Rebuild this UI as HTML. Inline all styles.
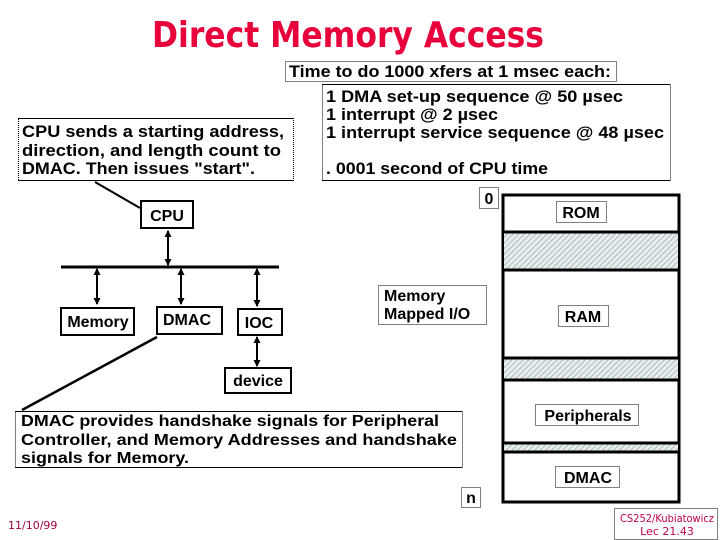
<!DOCTYPE html>
<html><head><meta charset="utf-8"><style>
html,body{margin:0;padding:0;background:#fff;width:720px;height:540px;overflow:hidden}
svg{display:block}
.c{font-family:"Liberation Sans",sans-serif;font-weight:bold;font-size:17px}
.b{font-family:"Liberation Sans",sans-serif;font-weight:bold;font-size:16px}
.d{fill:none;stroke:#000;stroke-width:1;stroke-dasharray:1,1}
</style></head><body>
<svg width="720" height="540" viewBox="0 0 720 540" xmlns="http://www.w3.org/2000/svg">
<defs>
<pattern id="h" width="4" height="4" patternUnits="userSpaceOnUse" patternTransform="rotate(45)">
<rect width="4" height="4" fill="#e8eef0"/><line x1="0" y1="0" x2="0" y2="4" stroke="#8a9aa0" stroke-width="1.2"/>
</pattern>
<marker id="a" markerWidth="8" markerHeight="8" refX="6" refY="4" orient="auto-start-reverse" markerUnits="userSpaceOnUse"><path d="M0,0.5 L7,4 L0,7.5z" fill="#000"/></marker>
</defs>
<text x="348" y="47" text-anchor="middle" font-family="'DejaVu Sans',sans-serif" font-weight="bold" font-size="36" fill="#e8003c" textLength="392" lengthAdjust="spacingAndGlyphs">Direct Memory Access</text>

<rect class="d" x="285.5" y="61.5" width="331" height="20"/>
<text class="c" x="289" y="77" textLength="322" lengthAdjust="spacingAndGlyphs">Time to do 1000 xfers at 1 msec each:</text>
<path d="M322.5 84.5 H670.5 V180.5 H322.5 Z" fill="none" stroke="#000" stroke-dasharray="1,1"/>
<line x1="322" y1="84.5" x2="670" y2="84.5" stroke="#000"/>
<line x1="322" y1="180.5" x2="670" y2="180.5" stroke="#000"/>
<text class="c" x="326" y="102" textLength="297" lengthAdjust="spacingAndGlyphs">1 DMA set-up sequence @ 50 µsec</text>
<text class="c" x="326" y="120" textLength="172" lengthAdjust="spacingAndGlyphs">1 interrupt @ 2 µsec</text>
<text class="c" x="326" y="138" textLength="338" lengthAdjust="spacingAndGlyphs">1 interrupt service sequence @ 48 µsec</text>
<text class="c" x="326" y="174" textLength="222" lengthAdjust="spacingAndGlyphs">. 0001 second of CPU time</text>

<path d="M18.5 170 V118.5 H293.5 V180.5 H18.5 Z" fill="none" stroke="#000" stroke-dasharray="1,1"/>
<line x1="18" y1="118.5" x2="293" y2="118.5" stroke="#000"/>
<line x1="18" y1="180.5" x2="293" y2="180.5" stroke="#000"/>
<text class="c" x="22" y="137" textLength="262" lengthAdjust="spacingAndGlyphs">CPU sends a starting address,</text>
<text class="c" x="22" y="156" textLength="259" lengthAdjust="spacingAndGlyphs">direction,  and length count to</text>
<text class="c" x="22" y="174" textLength="233" lengthAdjust="spacingAndGlyphs">DMAC. Then issues "start".</text>

<line x1="95" y1="182" x2="140" y2="208" stroke="#000" stroke-width="2"/>
<rect x="141" y="201" width="52" height="27" fill="none" stroke="#000" stroke-width="2"/>
<text class="b" x="167" y="221" text-anchor="middle">CPU</text>
<line x1="168" y1="231" x2="168" y2="265" stroke="#000" stroke-width="2" marker-start="url(#a)" marker-end="url(#a)"/>
<line x1="61" y1="267" x2="279" y2="267" stroke="#000" stroke-width="3"/>
<line x1="97" y1="269" x2="97" y2="304" stroke="#000" stroke-width="2" marker-start="url(#a)" marker-end="url(#a)"/>
<line x1="181" y1="269" x2="181" y2="304" stroke="#000" stroke-width="2" marker-start="url(#a)" marker-end="url(#a)"/>
<line x1="257" y1="269" x2="257" y2="306" stroke="#000" stroke-width="2" marker-start="url(#a)" marker-end="url(#a)"/>
<rect x="61" y="308" width="73" height="27" fill="none" stroke="#000" stroke-width="2"/>
<text class="b" x="98" y="327" text-anchor="middle">Memory</text>
<rect x="157" y="307" width="65" height="27" fill="none" stroke="#000" stroke-width="2"/>
<text class="b" x="187" y="325" text-anchor="middle">DMAC</text>
<rect x="238" y="309" width="44" height="26" fill="none" stroke="#000" stroke-width="2"/>
<text class="b" x="259" y="328" text-anchor="middle">IOC</text>
<line x1="257" y1="337" x2="257" y2="366" stroke="#000" stroke-width="2" marker-start="url(#a)" marker-end="url(#a)"/>
<rect x="225" y="368" width="66" height="25" fill="none" stroke="#000" stroke-width="2"/>
<text class="b" x="258" y="386" text-anchor="middle">device</text>
<line x1="157" y1="337" x2="22" y2="410" stroke="#000" stroke-width="2.5"/>

<path d="M15.5 411.5 H462.5 V467.5 H15.5 Z" fill="none" stroke="#000" stroke-dasharray="1,1"/>
<line x1="15" y1="411.5" x2="462" y2="411.5" stroke="#000"/>
<line x1="15" y1="467.5" x2="462" y2="467.5" stroke="#000"/>
<text class="b" x="21" y="426" textLength="418" lengthAdjust="spacingAndGlyphs">DMAC provides handshake signals for Peripheral</text>
<text class="b" x="21" y="445" textLength="436" lengthAdjust="spacingAndGlyphs">Controller, and Memory Addresses and handshake</text>
<text class="b" x="21" y="463" textLength="168" lengthAdjust="spacingAndGlyphs">signals for Memory.</text>

<rect class="d" x="378.5" y="285.5" width="108" height="39"/>
<text class="b" x="384" y="301">Memory</text>
<text class="b" x="384" y="319">Mapped I/O</text>

<rect x="503" y="195" width="176" height="307" fill="none" stroke="#000" stroke-width="3"/>
<rect x="504" y="233" width="174" height="36" fill="url(#h)"/>
<rect x="504" y="359" width="174" height="20" fill="url(#h)"/>
<rect x="504" y="444" width="174" height="7" fill="url(#h)"/>
<g stroke="#000" stroke-width="3">
<line x1="503" y1="232" x2="679" y2="232"/><line x1="503" y1="270" x2="679" y2="270"/>
<line x1="503" y1="358" x2="679" y2="358"/><line x1="503" y1="380" x2="679" y2="380"/>
<line x1="503" y1="443" x2="679" y2="443"/><line x1="503" y1="452" x2="679" y2="452"/>
</g>
<rect class="d" x="479.5" y="187.5" width="19" height="21"/>
<text class="b" x="489" y="204" text-anchor="middle">0</text>
<rect class="d" x="556.5" y="201.5" width="50" height="21"/>
<text class="b" x="581" y="218" text-anchor="middle">ROM</text>
<rect class="d" x="558.5" y="305.5" width="50" height="21"/>
<text class="b" x="583" y="322" text-anchor="middle">RAM</text>
<rect class="d" x="535.5" y="404.5" width="103" height="21"/>
<text class="b" x="588" y="421" text-anchor="middle">Peripherals</text>
<rect class="d" x="555.5" y="466.5" width="64" height="21"/>
<text class="b" x="588" y="483" text-anchor="middle">DMAC</text>
<rect class="d" x="461.5" y="487.5" width="19" height="20"/>
<text class="b" x="471" y="503" text-anchor="middle">n</text>

<text x="8" y="529" font-family="'DejaVu Sans',sans-serif" font-size="11" fill="#a0003c">11/10/99</text>
<rect class="d" x="614.5" y="508.5" width="103" height="31"/>
<text x="667" y="522" text-anchor="middle" font-family="'DejaVu Sans',sans-serif" font-size="11" fill="#c0004c" textLength="94" lengthAdjust="spacingAndGlyphs">CS252/Kubiatowicz</text>
<text x="667" y="535" text-anchor="middle" font-family="'DejaVu Sans',sans-serif" font-size="11" fill="#c0004c">Lec 21.43</text>
</svg>
</body></html>
